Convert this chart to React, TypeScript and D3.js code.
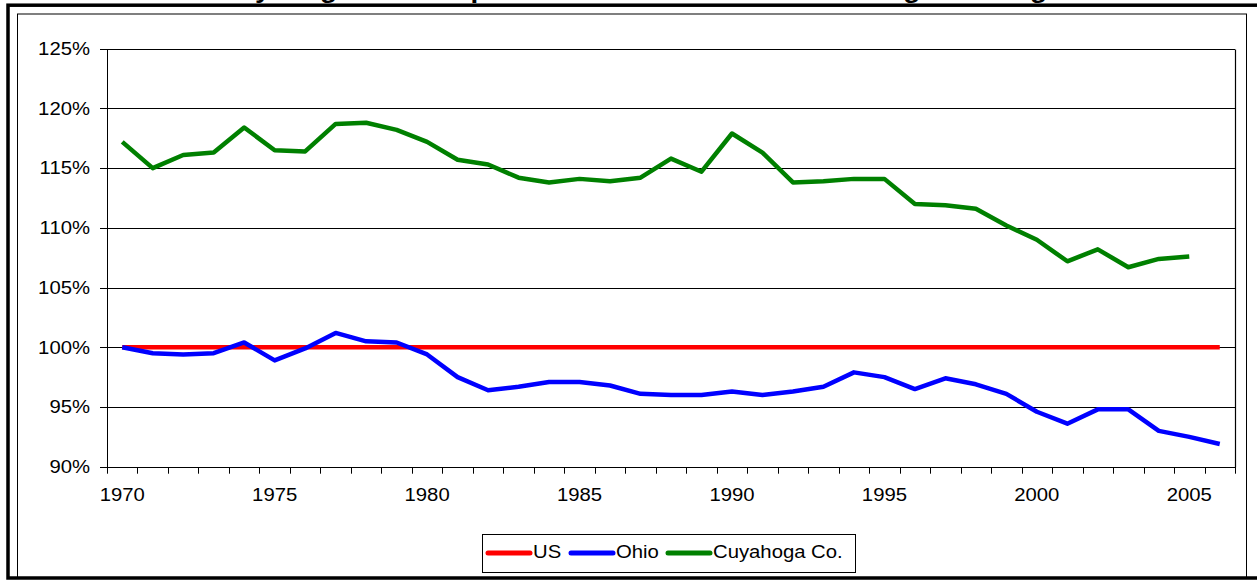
import React from 'react';
import * as d3 from 'd3';

// ---------- data ----------
const years = [
  1970, 1971, 1972, 1973, 1974, 1975, 1976, 1977, 1978, 1979,
  1980, 1981, 1982, 1983, 1984, 1985, 1986, 1987, 1988, 1989,
  1990, 1991, 1992, 1993, 1994, 1995, 1996, 1997, 1998, 1999,
  2000, 2001, 2002, 2003, 2004, 2005, 2006,
];

const usValues = [
  100, 100, 100, 100, 100, 100, 100, 100, 100, 100,
  100, 100, 100, 100, 100, 100, 100, 100, 100, 100,
  100, 100, 100, 100, 100, 100, 100, 100, 100, 100,
  100, 100, 100, 100, 100, 100, 100,
];

const ohioValues = [
  100.0, 99.5, 99.4, 99.5, 100.4, 98.9, 99.9, 101.2, 100.5, 100.4,
  99.4, 97.5, 96.4, 96.7, 97.1, 97.1, 96.8, 96.1, 96.0, 96.0,
  96.3, 96.0, 96.3, 96.7, 97.9, 97.5, 96.5, 97.4, 96.9, 96.1,
  94.6, 93.6, 94.8, 94.8, 93.0, 92.5, 91.9,
];

const cuyahogaValues: (number | null)[] = [
  117.2, 115.0, 116.1, 116.3, 118.4, 116.5, 116.4, 118.7, 118.8, 118.2,
  117.2, 115.7, 115.3, 114.2, 113.8, 114.1, 113.9, 114.2, 115.8, 114.7,
  117.9, 116.3, 113.8, 113.9, 114.1, 114.1, 112.0, 111.9, 111.6, 110.2,
  109.0, 107.2, 108.2, 106.7, 107.4, 107.6, null,
];

const yTickValues = [90, 95, 100, 105, 110, 115, 120, 125];
const xLabelYears = [1970, 1975, 1980, 1985, 1990, 1995, 2000, 2005];

const seriesNames = ['US', 'Ohio', 'Cuyahoga Co.'];
const seriesColors = ['#FF0000', '#0000FF', '#008000'];
const seriesData = [usValues, ohioValues, cuyahogaValues];

const titleText = "Cuyahoga's Per Capita Income Relative to US Average Earnings";

// ---------- layout ----------
const W = 1257;
const H = 586;
const plot = { left: 107, right: 1235, top: 48.7, bottom: 466.7 };
const SX = 1.16; // horizontal stretch of the text
const FONT = "'Liberation Sans', Arial, Helvetica, sans-serif";
const FS = 17.5;

function T(props: {
  x: number; y: number; anchor?: string; size?: number; weight?: string | number; children: React.ReactNode;
}) {
  const { x, y, anchor = 'start', size = FS, weight = 'normal', children } = props;
  return (
    <text
      transform={`translate(${x},${y}) scale(${SX},1)`}
      textAnchor={anchor as any}
      fontFamily={FONT}
      fontSize={size}
      fontWeight={weight as any}
      fill="#000"
    >
      {children}
    </text>
  );
}

export default function App() {
  const x = d3.scaleBand<number>().domain(years).range([plot.left, plot.right]).padding(0);
  const y = d3.scaleLinear().domain([90, 125]).range([plot.bottom, plot.top]);
  const cx = (yr: number) => (x(yr) as number) + x.bandwidth() / 2;
  const px = (v: number) => Math.round(v) + 0.5;

  const line = d3
    .line<number | null>()
    .defined((d) => d !== null)
    .x((_, i) => cx(years[i]))
    .y((d) => y(d as number));

  const boundaries = [...years.map((yr) => x(yr) as number), plot.right];

  const legendItemX = [488, 571, 668];

  return (
    <svg
      width={W}
      height={H}
      style={{ position: 'absolute', left: 0, top: 0, display: 'block', background: '#fff' }}
      viewBox={`0 0 ${W} ${H}`}
    >
      <rect x={0} y={0} width={W} height={H} fill="#fff" />

      {/* title (mostly above the visible area) */}
      <T x={218} y={-2.5} size={24} weight="bold">{titleText}</T>

      {/* outer thick frame */}
      <rect x={8} y={5.2} width={1400} height={572.8} fill="none" stroke="#000" strokeWidth={3.5} />
      {/* chart area border */}
      <rect x={17.5} y={14} width={1229} height={564} fill="none" stroke="#000" strokeWidth={1} />

      {/* gridlines */}
      {yTickValues.filter((v) => v > 90).map((v) => (
        <line key={'g' + v} x1={plot.left} x2={plot.right} y1={px(y(v))} y2={px(y(v))} stroke="#000" strokeWidth={1} />
      ))}
      {/* plot area right border */}
      <line x1={px(plot.right)} x2={px(plot.right)} y1={px(y(125))} y2={px(plot.bottom)} stroke="#000" strokeWidth={1.2} />

      {/* y axis */}
      <line x1={px(plot.left)} x2={px(plot.left)} y1={px(y(125))} y2={px(plot.bottom)} stroke="#000" strokeWidth={1} />
      {yTickValues.map((v) => (
        <g key={'yt' + v}>
          <line x1={plot.left - 7} x2={plot.left} y1={px(y(v))} y2={px(y(v))} stroke="#000" strokeWidth={1} />
          <T x={90} y={y(v) + 6.3} anchor="end">{`${v}%`}</T>
        </g>
      ))}

      {/* x axis */}
      <line x1={plot.left} x2={plot.right + 1} y1={px(plot.bottom)} y2={px(plot.bottom)} stroke="#000" strokeWidth={1} />
      {boundaries.map((b, i) => (
        <line key={'xt' + i} x1={px(b)} x2={px(b)} y1={px(plot.bottom)} y2={plot.bottom + 7} stroke="#000" strokeWidth={1} />
      ))}
      {xLabelYears.map((yr) => (
        <T key={'xl' + yr} x={cx(yr)} y={500.5} anchor="middle">{String(yr)}</T>
      ))}

      {/* series */}
      {seriesData.map((vals, s) => (
        <path
          key={'s' + s}
          d={line(vals) as string}
          fill="none"
          stroke={seriesColors[s]}
          strokeWidth={4.5}
          strokeLinejoin="round"
          strokeLinecap="butt"
        />
      ))}

      {/* legend */}
      <rect x={482.5} y={534.5} width={373} height={38} fill="#fff" stroke="#000" strokeWidth={1} />
      {seriesNames.map((name, i) => (
        <g key={'lg' + i}>
          <line x1={legendItemX[i]} x2={legendItemX[i] + 42} y1={553} y2={553} stroke={seriesColors[i]} strokeWidth={5} strokeLinecap="round" />
          <T x={legendItemX[i] + 45} y={557.5}>{name}</T>
        </g>
      ))}
    </svg>
  );
}
